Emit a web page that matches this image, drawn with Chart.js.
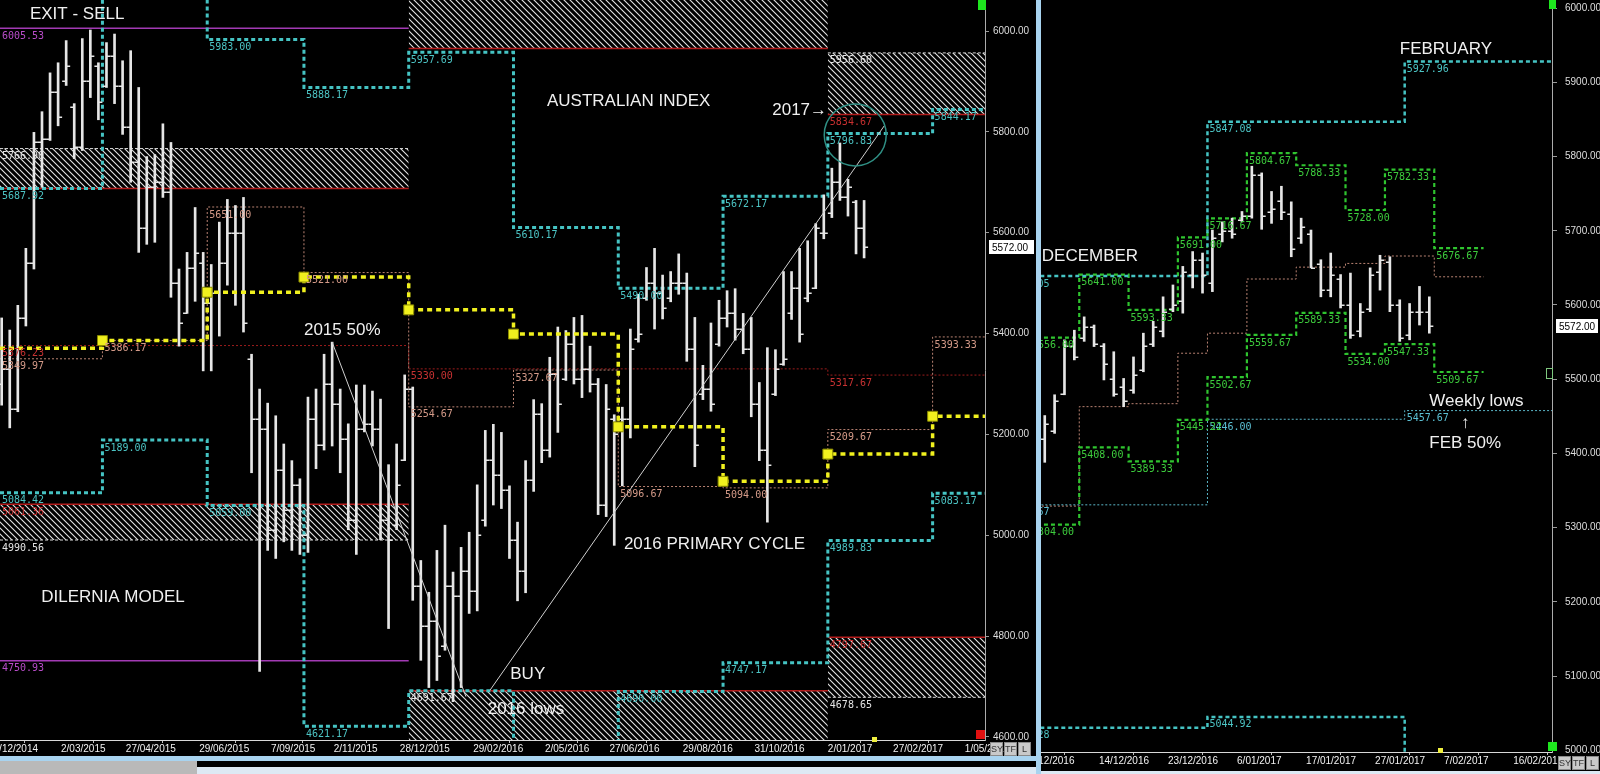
<!DOCTYPE html>
<html>
<head>
<meta charset="utf-8">
<script src="https://cdn.jsdelivr.net/npm/chart.js@4.4.1/dist/chart.umd.min.js"></script>
<style>
html, body { margin: 0; padding: 0; background: #000; width: 1600px; height: 774px; overflow: hidden; }
canvas { position: absolute; top: 0; }
#left { left: 0; }
#right { left: 1041px; }
.blk { position: absolute; }
.btn { position: absolute; width: 13px; height: 14px; background: #c9c9c9; border: 1px solid #8a8a8a; box-sizing: border-box;
  font: 9px "Liberation Sans"; color: #333; text-align: center; line-height: 12px; }
</style>
</head>
<body>
<canvas id="left" width="1036" height="756"></canvas>
<canvas id="right" width="559" height="774"></canvas>

<div class="blk" style="left:1036px;top:0;width:5px;height:774px;background:#a8d3ef;"></div>
<div class="blk" style="left:0;top:756px;width:1036px;height:5px;background:#a8d3ef;"></div>
<div class="blk" style="left:0;top:761px;width:197px;height:13px;background:#b9b9b9;"></div>
<div class="blk" style="left:197px;top:761px;width:839px;height:6px;background:#000;"></div>
<div class="blk" style="left:197px;top:767px;width:839px;height:7px;background:#dde9f4;"></div>
<div class="blk" style="left:1041px;top:771px;width:559px;height:3px;background:#dde9f4;"></div>

<div class="btn" style="left:990px;top:742px;">SY</div>
<div class="btn" style="left:1004px;top:742px;">TF</div>
<div class="btn" style="left:1018px;top:742px;">L</div>
<div class="btn" style="left:1558px;top:756px;">SY</div>
<div class="btn" style="left:1572px;top:756px;">TF</div>
<div class="btn" style="left:1586px;top:756px;">L</div>

<div class="blk" style="left:978px;top:0;width:8px;height:10px;background:#1ee61e;"></div>
<div class="blk" style="left:1549px;top:0;width:7px;height:9px;background:#1ee61e;"></div>
<div class="blk" style="left:1548px;top:742px;width:9px;height:9px;background:#1ee61e;"></div>
<div class="blk" style="left:976px;top:730px;width:9px;height:9px;background:#e01010;"></div>
<div class="blk" style="left:872px;top:737px;width:5px;height:5px;background:#f0f040;"></div>
<div class="blk" style="left:1438px;top:748px;width:5px;height:5px;background:#f0f040;"></div>
<div class="blk" style="left:1546px;top:368px;width:5px;height:9px;border:1px solid #7ec87e;"></div>

<script>
// ---------- weekly chart (left) ----------
const weekHigh = [5431,5407,5456,5569,5799,5840,5917,5937,5981,5856, 5985,6002,5937,5977,5994,5941,5961,5888,5751,5755,
  5816,5779,5528,5561,5650,5561,5537,5621,5666,5654, 5670,5359,5290,5262,5237,5181,5148,5112,5274,5290,
  5359,5383,5290,5221,5298,5298,5286,5270,5140,5181, 5318,5294,4950,4887,4970,5020,4927,4976,5006,5100,
  5208,5220,5204,5098,5026,5148,5269,5261,5353,5413, 5406,5432,5436,5375,5311,5299,5239,5254,5409,5478,
  5531,5569,5516,5523,5558,5520,5432,5337,5421,5466, 5485,5489,5440,5432,5303,5372,5368,5523,5523,5569,
  5584,5618,5675,5728,5778,5706,5664,5664];
const weekLow = [5258,5213,5245,5415,5528,5690,5783,5812,5892,5747, 5763,5868,5824,5888,5856,5795,5700,5561,5577,5581,
  5670,5472,5375,5440,5464,5326,5326,5395,5496,5456, 5403,5124,4730,4970,4954,4987,4970,4962,4966,5132,
  5169,5177,5124,5011,4962,5205,5177,4991,4815,5011, 5148,4871,4752,4698,4712,4772,4670,4698,4845,4850,
  5018,5060,5053,4954,4870,4886,5087,5144,5155,5204, 5307,5300,5273,5284,5041,5037,4980,5098,5193,5383,
  5466,5409,5429,5463,5478,5345,5136,5269,5246,5375, 5413,5387,5360,5235,5148,5026,5277,5337,5428,5383,
  5463,5489,5588,5630,5664,5633,5558,5550];
const weekOpen = [5300,5330,5250,5430,5540,5780,5785,5880,5900,5850, 5770,5900,5930,5890,5950,5890,5810,5740,5610,5690,
  5700,5680,5500,5440,5530,5540,5460,5480,5540,5600, 5600,5350,5230,5210,5010,5130,5050,5100,5000,5230,
  5180,5300,5260,5190,5030,5210,5220,5210,5030,5020, 5150,5290,4900,4820,4830,4780,4900,4880,4930,4890,
  5030,5150,5120,5090,4990,4930,5110,5240,5170,5320, 5310,5380,5310,5330,5300,5060,5230,5230,5230,5390,
  5470,5500,5480,5470,5500,5500,5370,5280,5290,5380, 5430,5440,5410,5370,5260,5170,5280,5340,5440,5490,
  5470,5490,5600,5640,5700,5670,5660,5610];
const weekClose = [5330,5250,5430,5540,5780,5785,5880,5830,5930,5770, 5900,5950,5860,5950,5890,5810,5740,5610,5690,5700,
  5680,5500,5420,5530,5560,5460,5480,5540,5600,5600, 5420,5230,5210,5010,5130,5050,5100,5000,5230,5180,
  5300,5260,5190,5030,5210,5220,5210,5030,4990,5100, 5290,4900,4820,4830,4760,4900,4880,4930,4890,5000,
  5150,5120,5090,4990,4930,5110,5240,5170,5320,5260, 5380,5310,5330,5300,5060,5250,5200,5230,5370,5400,
  5500,5480,5450,5500,5500,5370,5180,5290,5260,5430, 5440,5410,5370,5260,5170,5140,5330,5350,5490,5400,
  5480,5610,5600,5700,5670,5690,5610,5572];

const weekTickLabels = ['29/12/2014','2/03/2015','27/04/2015','29/06/2015','7/09/2015','2/11/2015','28/12/2015',
  '29/02/2016','2/05/2016','27/06/2016','29/08/2016','31/10/2016','2/01/2017','27/02/2017','1/05/2017'];
const weekTickPos = [-0.7, 8.36, 16.4, 25.5, 34.4, 42.2, 50.4, 59.5, 68.4, 76.4, 85.5, 94.4, 103.5, 111.6, 120.5];
const leftPriceTicks = [4600, 4800, 5000, 5200, 5400, 5600, 5800, 6000];

// quarterly model levels
const quarterEdges = [0.79, 13.5, 26.5, 38.5, 51.5, 64.5, 77.5, 90.5, 103.5, 116.5, 123];
const qCyanHigh = [5687.92, 6100, 5983.00, 5888.17, 5957.69, 5610.17, 5490.00, 5672.17, 5796.83, 5844.17];
const qCyanLow = [5084.42, 5189.00, 5059.00, 4621.17, 4691.67, 4500, 4690.00, 4747.17, 4989.83, 5083.17];
const qYellow = [5371, 5386.17, 5482, 5512, 5447, 5399, 5215, 5107, 5161, 5236];
const qSalmon = [5349.97, 5386.17, 5651.00, 5521.00, 5254.67, 5327.67, 5096.67, 5094.00, 5209.67, 5393.33];
const halfEdges = [0.79, 51.5, 103.5, 123];
const midRed = [5376.23, 5330.00, 5317.67];
const yearMagenta = [6005.53, 4750.93];
const trendDown = [{x: 42, y: 5383}, {x: 58.6, y: 4680}];
const trendUp = [{x: 61.6, y: 4693}, {x: 110.5, y: 5812}];
const highCircle = [{x: 106.9, y: 5794}];

const leftNotes = [
  {text: 'EXIT - SELL', x: 4.5, y: 6033},
  {text: 'AUSTRALIAN INDEX', x: 68.65, y: 5861},
  {text: '2017\u2192', x: 96.6, y: 5843},
  {text: '2015 50%', x: 38.5, y: 5407},
  {text: 'DILERNIA MODEL', x: 5.9, y: 4877},
  {text: 'BUY', x: 64.1, y: 4725},
  {text: '2016 lows', x: 61.3, y: 4655},
  {text: '2016 PRIMARY CYCLE', x: 78.2, y: 4982}
];

// ---------- daily chart (right) ----------
const dayHigh = [5451,5479,5553,5566,5584,5573,5548,5537,5501,5530, 5562,5578,5611,5627,5652,5672,5670,5701,5712,5717,
  5726,5787,5778,5753,5760,5739,5717,5701,5661,5670, 5641,5643,5602,5650,5667,5665,5607,5602,5625,5611];
const dayLow = [5388,5427,5479,5526,5551,5544,5499,5477,5463,5481, 5510,5544,5557,5591,5589,5623,5616,5618,5685,5690,
  5712,5717,5702,5710,5715,5665,5683,5650,5611,5611, 5596,5555,5557,5591,5620,5591,5551,5553,5573,5562];
const dayOpen = [5420,5430,5480,5545,5555,5570,5545,5500,5490,5485, 5512,5548,5565,5595,5605,5640,5660,5630,5695,5700,
  5715,5720,5775,5725,5740,5722,5690,5695,5655,5620, 5635,5600,5565,5595,5645,5658,5600,5560,5590,5590];
const dayClose = [5440,5470,5545,5530,5570,5548,5520,5480,5470,5505, 5545,5570,5590,5600,5645,5660,5640,5690,5700,5695,
  5720,5775,5720,5730,5725,5675,5705,5650,5620,5640, 5600,5560,5590,5640,5660,5600,5555,5590,5590,5572];

const dayTickLabels = ['5/12/2016','14/12/2016','23/12/2016','6/01/2017','17/01/2017','27/01/2017','7/02/2017','16/02/2017'];
const dayTickPos = [0, 7, 14, 21, 28, 35, 42, 49];
const rightPriceTicks = [5000, 5100, 5200, 5300, 5400, 5500, 5600, 5700, 5800, 5900, 6000];

const weekEdges = [0, 5, 10, 15, 18, 22, 27, 32, 36, 41, 46];
const wGreenHigh = [5556.00, 5641.00, 5593.33, 5691.00, 5716.67, 5804.67, 5788.33, 5728.00, 5782.33, 5676.67];
const wGreenLow = [5304.00, 5408.00, 5389.33, 5445.22, 5502.67, 5559.67, 5589.33, 5534.00, 5547.33, 5509.67];
const wSalmon = [5329, 5463, 5467, 5535, 5562, 5635, 5651, 5656, 5666, 5638];
const monthEdges = [-2.5, 18, 38, 60];
const mCyanHigh = [5639.05, 5847.08, 5927.96];
const mCyanLow = [5030.28, 5044.92, 4990];
const mCyanMid = [5330.67, 5446.00, 5457.67];

const rightNotes = [
  {text: 'DECEMBER', x: 1.2, y: 5666},
  {text: 'FEBRUARY', x: 37.5, y: 5945},
  {text: 'Weekly lows', x: 40.5, y: 5470},
  {text: '\u2191', x: 43.7, y: 5440},
  {text: 'FEB 50%', x: 40.5, y: 5414}
];

// ---------- helpers ----------
const RED = '#b41c1c';
const EDGE = '#d6d6d6';
const CYAN = '#45c3c3';

function hatch() {
  const c = document.createElement('canvas');
  c.width = c.height = 6;
  const g = c.getContext('2d');
  g.strokeStyle = '#e2e2e2';
  g.lineWidth = 1.1;
  g.beginPath();
  g.moveTo(0, 0); g.lineTo(6, 6);
  g.moveTo(-1, 5); g.lineTo(1, 7);
  g.moveTo(5, -1); g.lineTo(7, 1);
  g.stroke();
  return g.createPattern(c, 'repeat');
}

const steps = (edges, vals) => vals.map((v, i) => ({x: edges[i], y: v}))
  .concat([{x: edges[vals.length], y: vals[vals.length - 1]}]);

// 'before' = run flat to the next edge, then jump to its level
const stepLine = (edges, vals, color, width, dash, tag, order, extra) => Object.assign({
  data: steps(edges, vals), stepped: 'before', borderColor: color, borderWidth: width,
  borderDash: dash, pointRadius: 0, tag, order
}, extra || {});

const edge = (x0, x1, e, order) => ({
  data: [{x: x0, y: e.v}, {x: x1, y: e.v}], borderColor: e.color,
  borderWidth: e.dash ? 1 : 1.5, borderDash: e.dash || [], pointRadius: 0, tag: e.tag, order
});

function zone(pat, x0, x1, top, bottom) {
  const t = edge(x0, x1, top, 55);
  const b = edge(x0, x1, bottom, 60);
  b.fill = '-1';
  b.backgroundColor = pat;
  return [t, b];
}

// labels with the level value under each step
const levelLabels = {
  id: 'levelLabels',
  afterDatasetsDraw(chart) {
    const {ctx, chartArea: a, scales: {x, y}} = chart;
    ctx.save();
    ctx.beginPath();
    ctx.rect(a.left, a.top, a.right - a.left, a.bottom - a.top);
    ctx.clip();
    ctx.font = '10px "DejaVu Sans Mono"';
    ctx.textBaseline = 'top';
    chart.data.datasets.forEach(ds => {
      if (!ds.tag) return;
      ctx.fillStyle = ds.tag;
      ds.data.slice(0, -1).forEach((p, i) => {
        if ((ds.skip || []).includes(i)) return;
        if (p.y > y.max || p.y < y.min) return;
        ctx.fillText(p.y.toFixed(2), x.getPixelForValue(p.x) + 2, y.getPixelForValue(p.y) + 3);
      });
    });
    ctx.restore();
  }
};

// open / close ticks of the OHLC bars
const ohlcTicks = {
  id: 'ohlcTicks',
  afterDatasetDraw(chart, args) {
    const ds = chart.data.datasets[args.index];
    if (!ds.open) return;
    const {ctx, scales: {y}} = chart;
    ctx.save();
    ctx.strokeStyle = ds.backgroundColor;
    ctx.lineWidth = 1.5;
    args.meta.data.forEach((bar, i) => {
      const yo = Math.round(y.getPixelForValue(ds.open[i])) + 0.25;
      const yc = Math.round(y.getPixelForValue(ds.close[i])) + 0.25;
      ctx.beginPath();
      ctx.moveTo(bar.x - 4, yo); ctx.lineTo(bar.x, yo);
      ctx.moveTo(bar.x, yc); ctx.lineTo(bar.x + 4, yc);
      ctx.stroke();
    });
    ctx.restore();
  }
};

const notesPlugin = (notes) => ({
  id: 'notes',
  afterDraw(chart) {
    const {ctx, scales: {x, y}} = chart;
    ctx.save();
    ctx.fillStyle = '#f0f0f0';
    ctx.font = '17px "Liberation Sans"';
    ctx.textBaseline = 'middle';
    notes.forEach(n => ctx.fillText(n.text, x.getPixelForValue(n.x), y.getPixelForValue(n.y)));
    ctx.restore();
  }
});

const priceBox = (price) => ({
  id: 'priceBox',
  afterDraw(chart) {
    const {ctx, scales: {y}} = chart;
    const py = Math.round(y.getPixelForValue(price));
    ctx.save();
    ctx.fillStyle = '#fff';
    ctx.fillRect(y.left + 4, py - 7, y.width - 6, 14);
    ctx.fillStyle = '#000';
    ctx.font = '10px "Liberation Sans"';
    ctx.textBaseline = 'middle';
    ctx.fillText(price.toFixed(2), y.left + 7, py + 1);
    ctx.restore();
  }
});

// fixed axis boxes, no extra padding for overflowing labels
const noPad = (s) => { s.paddingLeft = 0; s.paddingRight = 0; s.paddingTop = 0; s.paddingBottom = 0; };

function axes(xmin, xmax, tickPos, tickLabels, xh, ymin, ymax, yTicks, yw, tickLen, pad) {
  return {
    x: {
      type: 'linear', min: xmin, max: xmax, offset: false,
      afterBuildTicks: s => { s.ticks = tickPos.map(v => ({value: v})); },
      afterFit: s => { s.height = xh; noPad(s); },
      grid: {drawOnChartArea: false, tickLength: 3, color: '#bdbdbd'},
      border: {color: '#d8d8d8'},
      ticks: {align: 'start', autoSkip: false, maxRotation: 0, minRotation: 0, padding: 0, color: '#f2f2f2',
        font: {family: 'Liberation Sans', size: 10}, callback: (v, i) => tickLabels[i]}
    },
    y: {
      position: 'right', min: ymin, max: ymax,
      afterBuildTicks: s => { s.ticks = yTicks.map(v => ({value: v})); },
      afterFit: s => { s.width = yw; noPad(s); },
      grid: {drawOnChartArea: false, tickLength: tickLen, color: '#9a9a9a'},
      border: {color: '#ababab'},
      ticks: {padding: pad, color: '#dedede', font: {family: 'Liberation Sans', size: 10}, callback: v => v.toFixed(2)}
    }
  };
}

const baseOptions = (scales) => ({
  responsive: false, animation: false, devicePixelRatio: 1,
  layout: {padding: 0, autoPadding: false},
  elements: {point: {radius: 0}, line: {tension: 0}},
  plugins: {legend: {display: false}, tooltip: {enabled: false}, filler: {propagate: false}},
  scales
});

const pat = hatch();
const QE = quarterEdges;

// ---------- left chart ----------
const leftSets = [
  ...zone(pat, QE[0], QE[4], {v: 5766.90, color: EDGE, dash: [3, 2], tag: '#e4e4e4'}, {v: 5687.92, color: RED}),
  ...zone(pat, QE[0], QE[4], {v: 5061.36, color: RED, tag: '#c83030'}, {v: 4990.56, color: EDGE, dash: [3, 2], tag: '#e4e4e4'}),
  ...zone(pat, QE[4], QE[8], {v: 6061.5, color: 'transparent'}, {v: 5965.47, color: RED}),
  ...zone(pat, QE[4], QE[8], {v: 4691.67, color: RED, tag: '#e4e4e4'}, {v: 4594, color: 'transparent'}),
  ...zone(pat, QE[8], QE[10], {v: 5956.60, color: EDGE, dash: [3, 2], tag: '#e4e4e4'}, {v: 5834.67, color: RED, tag: '#c83030'}),
  ...zone(pat, QE[8], QE[10], {v: 4797.67, color: RED, tag: '#c83030'}, {v: 4678.65, color: EDGE, dash: [3, 2], tag: '#e4e4e4'}),
  ...yearMagenta.map(v => edge(QE[0], QE[4], {v, color: '#a23ab4', tag: '#b84cc8'}, 45)),
  stepLine(halfEdges, midRed, '#9c1c1c', 1, [2, 2], '#c83232', 45),
  stepLine(QE, qSalmon, '#b98272', 1, [2, 2], '#d49a88', 35),
  stepLine(QE, qCyanHigh, CYAN, 3, [4, 3], '#4cc4c4', 30),
  stepLine(QE, qCyanLow, CYAN, 3, [4, 3], '#4cc4c4', 30, {skip: [4]}),
  {
    type: 'bar', data: weekHigh.map((h, i) => ({x: i + 1, y: [weekLow[i], h]})),
    backgroundColor: '#e6e6e6', barThickness: 2, open: weekOpen, close: weekClose, order: 20
  },
  {data: trendDown, borderColor: '#d0d0d0', borderWidth: 1, order: 15},
  {data: trendUp, borderColor: '#d0d0d0', borderWidth: 1, order: 15},
  stepLine(QE, qYellow, '#f0f01e', 3.5, [5, 4], undefined, 10, {
    pointStyle: 'rect', pointRadius: qYellow.map((v, i) => i ? 7 : 0).concat([0]),
    pointBackgroundColor: '#f0f01e', pointBorderColor: '#8c8c00', pointBorderWidth: 1
  }),
  {data: highCircle, showLine: false, pointRadius: 31, pointBackgroundColor: 'transparent',
   pointBorderColor: '#2f8f84', pointBorderWidth: 1.5, order: 5}
];

new Chart(document.getElementById('left'), {
  type: 'line',
  data: {datasets: leftSets},
  options: baseOptions(axes(0.79, 123, weekTickPos, weekTickLabels, 16, 4594, 6061.5, leftPriceTicks, 51, 4, 4)),
  plugins: [levelLabels, ohlcTicks, notesPlugin(leftNotes), priceBox(weekClose[weekClose.length - 1])]
});

// ---------- right chart ----------
const rightSets = [
  stepLine(weekEdges, wSalmon, '#b98272', 1, [2, 2], undefined, 35),
  stepLine(monthEdges, mCyanMid, '#5ab6c8', 1, [2, 2], '#5cc0d4', 33),
  stepLine(weekEdges, wGreenHigh, '#2fc42f', 2.2, [4, 3], '#3dcc3d', 30),
  stepLine(weekEdges, wGreenLow, '#2fc42f', 2.2, [4, 3], '#3dcc3d', 30),
  stepLine(monthEdges, mCyanHigh, CYAN, 2.5, [4, 3], '#4cc4c4', 28),
  stepLine(monthEdges, mCyanLow, CYAN, 2.5, [4, 3], '#4cc4c4', 28),
  {
    type: 'bar', data: dayHigh.map((h, i) => ({x: i + 1.5, y: [dayLow[i], h]})),
    backgroundColor: '#e6e6e6', barThickness: 2, open: dayOpen, close: dayClose, order: 20
  }
];

new Chart(document.getElementById('right'), {
  type: 'line',
  data: {datasets: rightSets},
  options: baseOptions(axes(1.12, 52.94, dayTickPos, dayTickLabels, 22, 4997.6, 6011, rightPriceTicks, 48, 5, 8)),
  plugins: [levelLabels, ohlcTicks, notesPlugin(rightNotes), priceBox(dayClose[dayClose.length - 1])]
});
</script>
</body>
</html>
